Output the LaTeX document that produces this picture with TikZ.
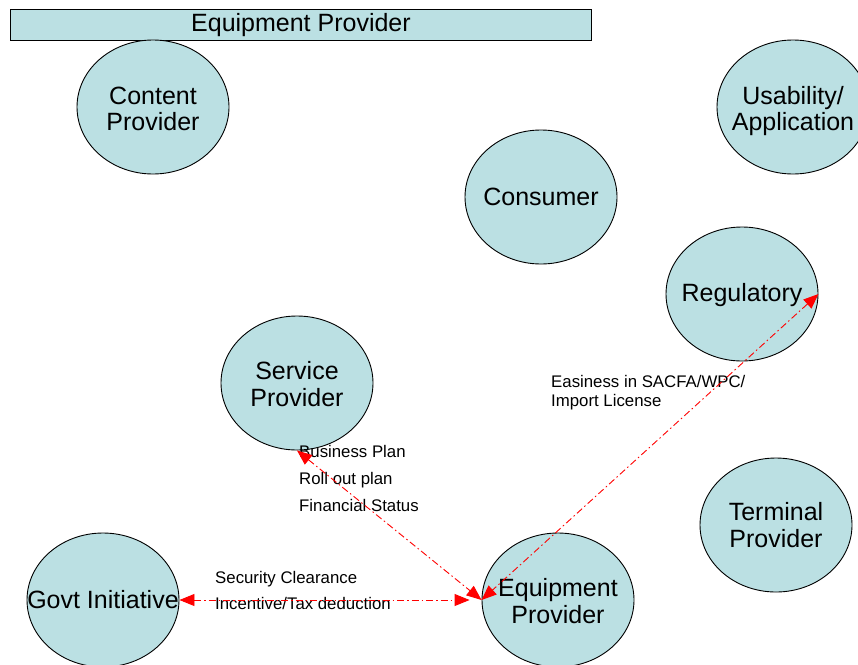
\documentclass[tikz,border=0pt]{standalone}
\usepackage{fontspec}
\setmainfont{Liberation Sans}
\usetikzlibrary{shapes.geometric,arrows.meta}
\definecolor{bub}{RGB}{187,224,227}
\begin{document}
\begin{tikzpicture}[x=1pt,y=-1pt,
 bubble/.style={ellipse,draw=black,line width=0.9pt,fill=bub,minimum width=152pt,minimum height=134pt,inner sep=0pt},
 big/.style={font=\fontsize{25}{26.5}\selectfont,align=center,inner sep=0pt},
 small/.style={font=\fontsize{16.8}{19}\selectfont,align=left,inner sep=0pt,anchor=base west},
 link/.style={red,line width=0.9pt,dash pattern=on 7pt off 3pt on 1.5pt off 3pt,{Triangle[length=15pt,width=12pt]}-{Triangle[length=15pt,width=12pt]}}]
\useasboundingbox (0,0) rectangle (858,664);
\clip (0,0) rectangle (858,664);
\fill[white] (0,0) rectangle (858,664);
% header
\node[draw=black,line width=0.9pt,fill=bub,minimum width=581pt,minimum height=31pt,inner sep=0pt,anchor=north west] (hdr) at (10,9) {};
\node[big] (hdrt) at (hdr.center) {Equipment Provider};
% bubbles
\node[bubble] (cp) at (153,107) {};
\node[big] (cpt) at ([yshift=-2pt]cp.center) {Content\\Provider};
\node[bubble] (ua) at (793,107) {};
\node[big] (uat) at ([yshift=-4pt]ua.center) {Usability/\\Application};
\node[bubble] (co) at (541,197) {};
\node[big] (cot) at (co.center) {Consumer};
\node[bubble] (rg) at (742,294) {};
\node[big] (rgt) at ([yshift=-1pt]rg.center) {Regulatory};
\node[bubble] (sp) at (297,383) {};
\node[big] (spt) at ([yshift=-1pt]sp.center) {Service\\Provider};
\node[bubble] (tp) at (776,525) {};
\node[big] (tpt) at (tp.center) {Terminal\\Provider};
\node[bubble] (gi) at (103,600) {};
\node[big] (git) at (gi.center) {Govt Initiative};
\node[bubble] (ep) at (558,600) {};
\node[big] (ept) at ([yshift=-1pt]ep.center) {Equipment\\Provider};
% labels
\node[small] (l1) at (299,457) {Business Plan};
\node[small] (l2) at (299,484) {Roll out plan};
\node[small] (l3) at (299,511) {Financial Status};
\node[small] (l4) at (215,583) {Security Clearance};
\node[small] (l5) at (215,609) {Incentive/Tax deduction};
\node[small] (l6) at (551,406) {Easiness in SACFA/WPC/\\Import License};
% links
\draw[link] (sp.south) -- (ep.west);
\draw[link] (gi.east) -- ([xshift=-12pt]ep.west);
\draw[link] (rg.east) -- (ep.west);
\end{tikzpicture}
\end{document}
